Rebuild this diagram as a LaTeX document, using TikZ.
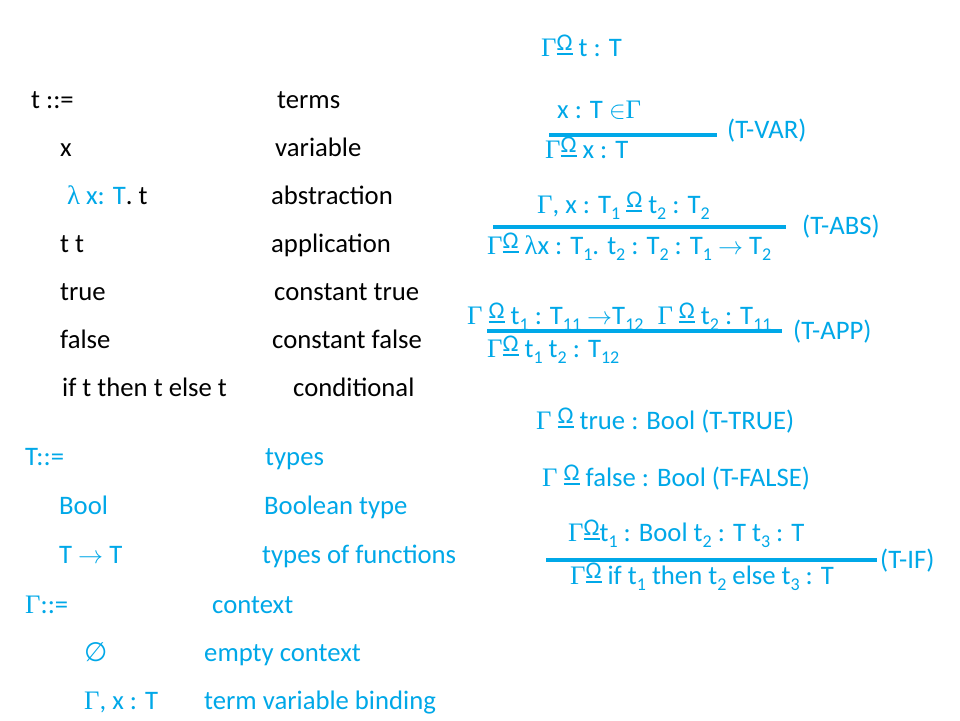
\documentclass[tikz,border=0pt]{standalone}
\usepackage{fontspec}
\setmainfont{Carlito}
\newfontfamily\gfont{Liberation Serif}
\newfontfamily\dfont{DejaVu Sans}
\definecolor{tb}{RGB}{0,168,232}
\newcommand\G{{\gfont Γ}}
\newcommand\lam{{\gfont λ}}
\newcommand\arr{\resizebox{25pt}{!}{$\rightarrow$}}
\newcommand\inn{\ensuremath{\in}}
\newcommand\emp{{\dfont ∅}}
\newsavebox\tsbox
\newcommand\ts{\sbox\tsbox{\fontsize{24}{24}\selectfont Ω}\mbox{\rlap{\raisebox{5.5pt}{\usebox\tsbox}}\rule[0.6pt]{\wd\tsbox}{2.6pt}}}
\newcommand\sub[1]{\raisebox{-6pt}{\fontsize{18}{18}\selectfont #1}}
\tikzset{
  txt/.style={anchor=base west, inner sep=0pt, font=\fontsize{26.7}{32}\selectfont},
  blk/.style={txt, text=black},
  blu/.style={txt, text=tb},
  bar/.style={draw=tb, line width=3.6pt}
}
\begin{document}
\begin{tikzpicture}[x=1pt,y=-1pt]
\useasboundingbox[fill=white] (0,0) rectangle (960,720);
% terms
\node[blk] (t0) at (31,108) {t ::=};
\node[blk] (t0d) at (277,108) {terms};
\node[blk] (t1) at (60,156) {x};
\node[blk] (t1d) at (275,156) {variable};
\node[blk] (t2) at (67,204) {\textcolor{tb}{\lam\ x: T}. t};
\node[blk] (t2d) at (271,204) {abstraction};
\node[blk] (t3) at (60,252) {t t};
\node[blk] (t3d) at (271,252) {application};
\node[blk] (t4) at (60,300) {true};
\node[blk] (t4d) at (274,300) {constant true};
\node[blk] (t5) at (60,348) {false};
\node[blk] (t5d) at (272,348) {constant false};
\node[blk] (t6) at (62,396) {if t then t else t};
\node[blk] (t6d) at (293,396) {conditional};
% types
\node[blu] (y0) at (25,465) {T::=};
\node[blu] (y0d) at (265,465) {types};
\node[blu] (y1) at (59,514) {Bool};
\node[blu] (y1d) at (264,514) {Boolean type};
\node[blu] (y2) at (59,563) {T \arr\ T};
\node[blu] (y2d) at (262,563) {types of functions};
\node[blu] (c0) at (25,613) {\G::=};
\node[blu] (c0d) at (212,613) {context};
\node[blu] (c1) at (84,661) {\emp};
\node[blu] (c1d) at (204,661) {empty context};
\node[blu] (c2) at (84,709) {\G, x : T};
\node[blu] (c2d) at (204,709) {term variable binding};
% judgement
\node[blu] (j) at (541,56) {\G\ts\ t : T};
% T-VAR
\node[blu] (var1) at (557,118) {x : T \inn\G};
\node[blu] (var2) at (545,158) {\G\ts\ x : T};
\node[blu] (varl) at (727,138) {(T-VAR)};
\coordinate (va) at (549,135);
\coordinate (vb) at (717,135);
\draw[bar] (va) -- (vb);
% T-ABS
\node[blu] (abs1) at (537,213) {\G, x : T\sub{1} \ts\ t\sub{2} : T\sub{2}};
\node[blu] (abs2) at (487,254) {\G\ts\ \lam x : T\sub{1}. t\sub{2} : T\sub{2} : T\sub{1} \arr\ T\sub{2}};
\node[blu] (absl) at (802,234) {(T-ABS)};
\coordinate (aa) at (493,227);
\coordinate (ab) at (786,227);
\draw[bar] (aa) -- (ab);
% T-APP
\node[blu] (app1) at (467,324) {\G\ \ts\ t\sub{1} : T\sub{11} \arr T\sub{12}\hspace{14pt}\G\ \ts\ t\sub{2} : T\sub{11}};
\node[blu] (app2) at (487,357) {\G\ts\ t\sub{1} t\sub{2} : T\sub{12}};
\node[blu] (appl) at (793,339) {(T-APP)};
\coordinate (pa) at (487,331);
\coordinate (pb) at (782,331);
\draw[bar] (pa) -- (pb);
% T-TRUE, T-FALSE
\node[blu] (tru) at (536,429) {\G\ \ts\ true : Bool (T-TRUE)};
\node[blu] (fal) at (542,486) {\G\ \ts\ false : Bool (T-FALSE)};
% T-IF
\node[blu] (if1) at (568,541) {\G\ts t\sub{1} : Bool t\sub{2} : T t\sub{3} : T};
\node[blu] (if2) at (570,584) {\G\ts\ if t\sub{1} then t\sub{2} else t\sub{3} : T};
\node[blu] (ifl) at (880,568) {(T-IF)};
\coordinate (ia) at (546,560);
\coordinate (ib) at (877,560);
\draw[bar] (ia) -- (ib);
\end{tikzpicture}
\end{document}
